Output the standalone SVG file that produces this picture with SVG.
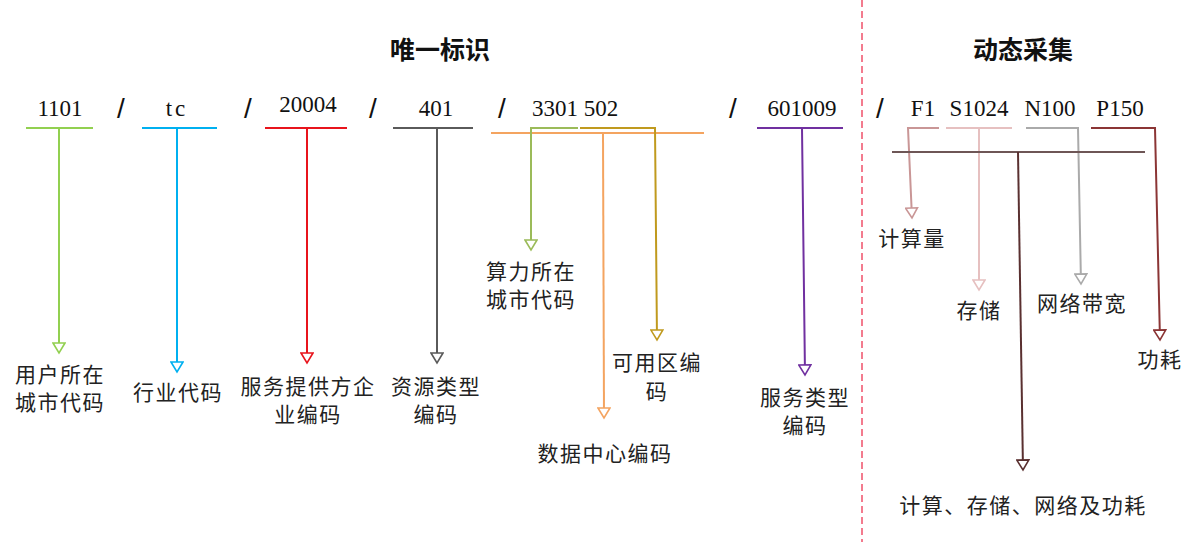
<svg xmlns="http://www.w3.org/2000/svg" width="1196" height="542" viewBox="0 0 1196 542">
<style>
.t{font-family:"Noto Sans CJK SC","Liberation Sans",sans-serif;font-size:25px;font-weight:bold;fill:#111;text-anchor:middle}
.c{font-family:"Liberation Serif","Noto Sans CJK SC",serif;font-size:23px;fill:#111;text-anchor:middle}
.s{font-family:"Liberation Sans","Noto Sans CJK SC",sans-serif;font-size:28px;fill:#111;text-anchor:middle}
.l{font-family:"Noto Sans CJK SC","Liberation Sans",sans-serif;font-size:21px;fill:#222;text-anchor:middle;dominant-baseline:central;letter-spacing:1.5px}
.ln{fill:none;stroke-width:2}
</style>
<defs>
<marker id="aG" markerUnits="userSpaceOnUse" markerWidth="14" markerHeight="14" refX="12" refY="7" orient="auto" viewBox="0 0 14 14"><path d="M2,1 L12,7 L2,13 Z" fill="#fff" stroke="#92d050" stroke-width="1.6"/></marker>
<marker id="aB" markerUnits="userSpaceOnUse" markerWidth="14" markerHeight="14" refX="12" refY="7" orient="auto" viewBox="0 0 14 14"><path d="M2,1 L12,7 L2,13 Z" fill="#fff" stroke="#00b0f0" stroke-width="1.6"/></marker>
<marker id="aR" markerUnits="userSpaceOnUse" markerWidth="14" markerHeight="14" refX="12" refY="7" orient="auto" viewBox="0 0 14 14"><path d="M2,1 L12,7 L2,13 Z" fill="#fff" stroke="#e8141c" stroke-width="1.6"/></marker>
<marker id="aK" markerUnits="userSpaceOnUse" markerWidth="14" markerHeight="14" refX="12" refY="7" orient="auto" viewBox="0 0 14 14"><path d="M2,1 L12,7 L2,13 Z" fill="#fff" stroke="#5a5a5a" stroke-width="1.6"/></marker>
<marker id="aL" markerUnits="userSpaceOnUse" markerWidth="14" markerHeight="14" refX="12" refY="7" orient="auto" viewBox="0 0 14 14"><path d="M2,1 L12,7 L2,13 Z" fill="#fff" stroke="#9bbb59" stroke-width="1.6"/></marker>
<marker id="aO" markerUnits="userSpaceOnUse" markerWidth="14" markerHeight="14" refX="12" refY="7" orient="auto" viewBox="0 0 14 14"><path d="M2,1 L12,7 L2,13 Z" fill="#fff" stroke="#f4a460" stroke-width="1.6"/></marker>
<marker id="aY" markerUnits="userSpaceOnUse" markerWidth="14" markerHeight="14" refX="12" refY="7" orient="auto" viewBox="0 0 14 14"><path d="M2,1 L12,7 L2,13 Z" fill="#fff" stroke="#c09a1e" stroke-width="1.6"/></marker>
<marker id="aP" markerUnits="userSpaceOnUse" markerWidth="14" markerHeight="14" refX="12" refY="7" orient="auto" viewBox="0 0 14 14"><path d="M2,1 L12,7 L2,13 Z" fill="#fff" stroke="#7030a0" stroke-width="1.6"/></marker>
<marker id="aF" markerUnits="userSpaceOnUse" markerWidth="14" markerHeight="14" refX="12" refY="7" orient="auto" viewBox="0 0 14 14"><path d="M2,1 L12,7 L2,13 Z" fill="#fff" stroke="#c99696" stroke-width="1.6"/></marker>
<marker id="aS" markerUnits="userSpaceOnUse" markerWidth="14" markerHeight="14" refX="12" refY="7" orient="auto" viewBox="0 0 14 14"><path d="M2,1 L12,7 L2,13 Z" fill="#fff" stroke="#e6c0c0" stroke-width="1.6"/></marker>
<marker id="aN" markerUnits="userSpaceOnUse" markerWidth="14" markerHeight="14" refX="12" refY="7" orient="auto" viewBox="0 0 14 14"><path d="M2,1 L12,7 L2,13 Z" fill="#fff" stroke="#aaaaaa" stroke-width="1.6"/></marker>
<marker id="aW" markerUnits="userSpaceOnUse" markerWidth="14" markerHeight="14" refX="12" refY="7" orient="auto" viewBox="0 0 14 14"><path d="M2,1 L12,7 L2,13 Z" fill="#fff" stroke="#8b3535" stroke-width="1.6"/></marker>
<marker id="aD" markerUnits="userSpaceOnUse" markerWidth="14" markerHeight="14" refX="12" refY="7" orient="auto" viewBox="0 0 14 14"><path d="M2,1 L12,7 L2,13 Z" fill="#fff" stroke="#5a3030" stroke-width="1.6"/></marker>
</defs>
<rect width="1196" height="542" fill="#fff"/>
<line x1="862" y1="0" x2="862" y2="542" stroke="#f0506a" stroke-width="1.5" stroke-dasharray="7,4"/>
<g id="titles">
<text class="t" x="440" y="59">唯一标识</text>
<text class="t" x="1023" y="59">动态采集</text>
</g>
<g id="codes">
<text class="c" x="60" y="116">1101</text>
<text class="s" x="121" y="118">/</text>
<text class="c" x="177" y="116" letter-spacing="3">tc</text>
<text class="s" x="248" y="118">/</text>
<text class="c" x="308" y="112">20004</text>
<text class="s" x="373" y="118">/</text>
<text class="c" x="436" y="116">401</text>
<text class="s" x="502" y="118">/</text>
<text class="c" x="555" y="116">3301</text>
<text class="c" x="601" y="116">502</text>
<text class="s" x="733" y="118">/</text>
<text class="c" x="802" y="116">601009</text>
<text class="s" x="880" y="118">/</text>
<text class="c" x="923" y="116">F1</text>
<text class="c" x="979" y="116">S1024</text>
<text class="c" x="1050" y="116">N100</text>
<text class="c" x="1120" y="116">P150</text>
</g>
<g id="connectors">
<path class="ln" stroke="#92d050" d="M26,128 H93 M59,128 V353" marker-end="url(#aG)"/>
<path class="ln" stroke="#00b0f0" d="M142,128 H217 M177,128 V372" marker-end="url(#aB)"/>
<path class="ln" stroke="#e8141c" d="M265,128 H347 M307,128 V363" marker-end="url(#aR)"/>
<path class="ln" stroke="#5a5a5a" d="M393,128 H473 M437,128 V363" marker-end="url(#aK)"/>
<path class="ln" stroke="#f4a460" d="M491,133 H704"/>
<path class="ln" stroke="#9bbb59" d="M578,128 H531 V250" marker-end="url(#aL)"/>
<path class="ln" stroke="#f4a460" d="M603,133 L604,418" marker-end="url(#aO)"/>
<path class="ln" stroke="#c09a1e" d="M580,128 H655 L657,340" marker-end="url(#aY)"/>
<path class="ln" stroke="#7030a0" d="M757,128 H843 M802,128 L805,375" marker-end="url(#aP)"/>
<path class="ln" stroke="#c99696" d="M939,128 H908 L912,218" marker-end="url(#aF)"/>
<path class="ln" stroke="#e6c0c0" d="M946,128 H1012 M979,128 V290" marker-end="url(#aS)"/>
<path class="ln" stroke="#aaaaaa" d="M1026,128 H1078 L1081,284" marker-end="url(#aN)"/>
<path class="ln" stroke="#8b3535" d="M1091,128 H1155 L1160,340" marker-end="url(#aW)"/>
<path class="ln" stroke="#6e5656" d="M892,152 H1145"/>
<path class="ln" stroke="#5a3030" d="M1018,152 L1023,470" marker-end="url(#aD)"/>
</g>
<g id="n1101"><text class="l" x="60" y="373">用户所在</text><text class="l" x="60" y="401">城市代码</text></g>
<g id="ntc"><text class="l" x="178" y="391">行业代码</text></g>
<g id="n20004"><text class="l" x="308" y="385">服务提供方企</text><text class="l" x="308" y="413">业编码</text></g>
<g id="n401"><text class="l" x="436" y="385">资源类型</text><text class="l" x="436" y="413">编码</text></g>
<g id="n3301"><text class="l" x="531" y="270">算力所在</text><text class="l" x="531" y="298">城市代码</text></g>
<g id="n502a"><text class="l" x="657" y="361">可用区编</text><text class="l" x="657" y="390">码</text></g>
<g id="n502b"><text class="l" x="605" y="452">数据中心编码</text></g>
<g id="n601009"><text class="l" x="805" y="396">服务类型</text><text class="l" x="805" y="424">编码</text></g>
<g id="nF1"><text class="l" x="912" y="237">计算量</text></g>
<g id="nS1024"><text class="l" x="979" y="309">存储</text></g>
<g id="nN100"><text class="l" x="1082" y="302">网络带宽</text></g>
<g id="nP150"><text class="l" x="1160" y="358">功耗</text></g>
<g id="nAll"><text class="l" x="1023" y="504">计算、存储、网络及功耗</text></g>
</svg>
